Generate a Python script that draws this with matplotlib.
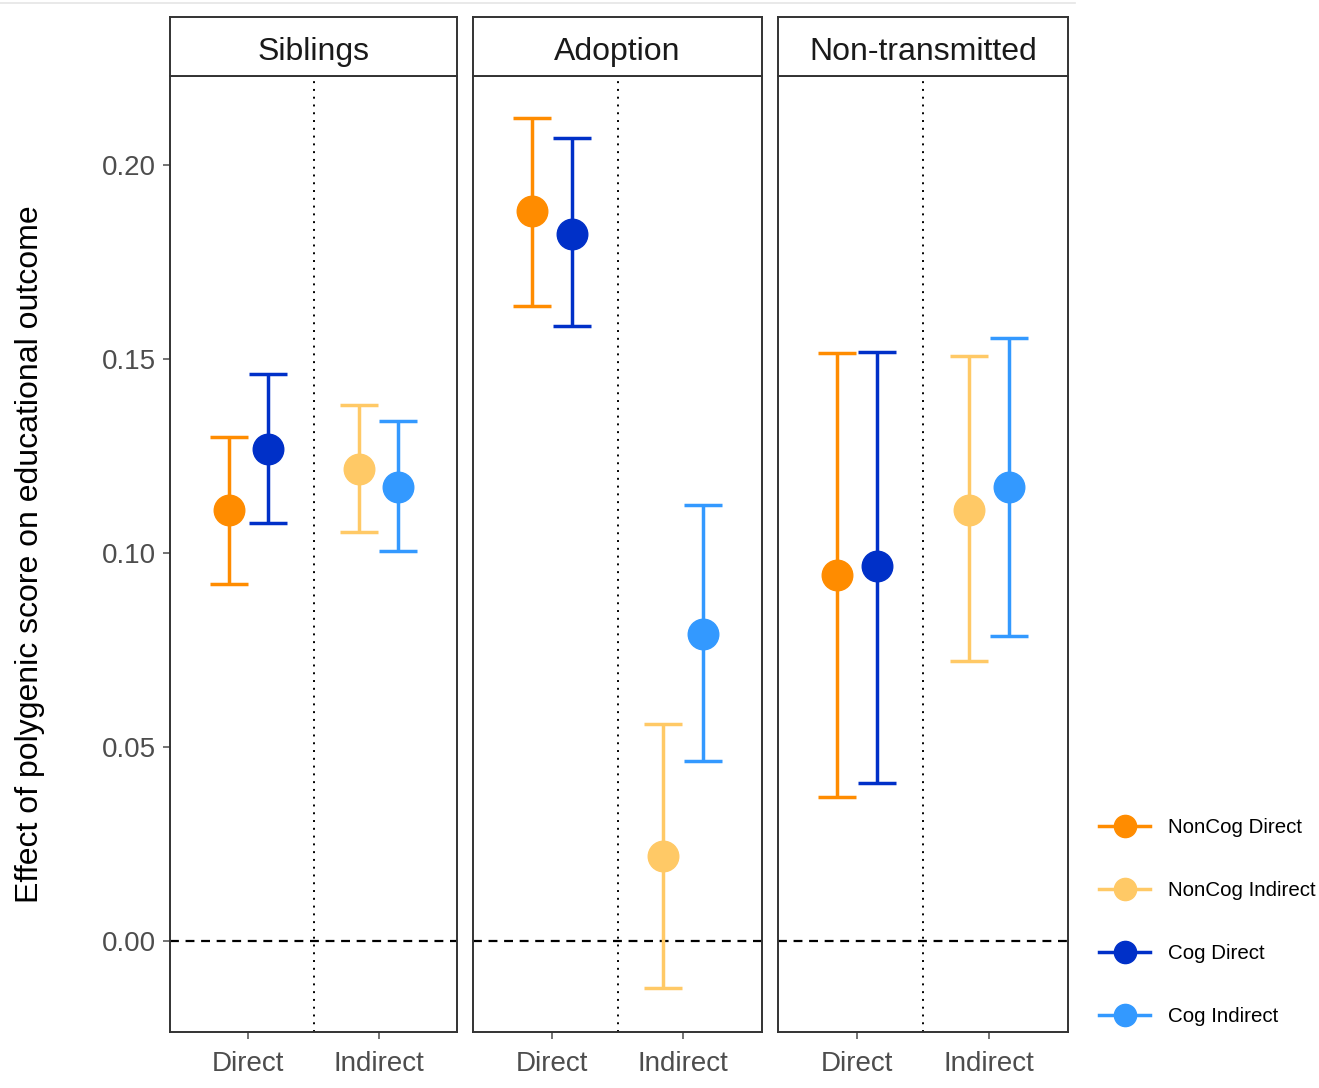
import matplotlib.pyplot as plt
from matplotlib.lines import Line2D

plt.rcParams['font.family'] = ['Liberation Sans', 'DejaVu Sans']

panels = ["Siblings", "Adoption", "Non-transmitted"]
x_labels = ["Direct", "Indirect"]
series = ["NonCog Direct", "NonCog Indirect", "Cog Direct", "Cog Indirect"]
colors = ["#FF8C00", "#FFC966", "#0030C8", "#3399FF"]

# estimate, lower, upper per panel, in series order
est = {
    "Siblings": [0.1111, 0.1216, 0.1268, 0.1170],
    "Adoption": [0.1881, 0.0219, 0.1822, 0.0791],
    "Non-transmitted": [0.0943, 0.1111, 0.0966, 0.1170],
}
lower = {
    "Siblings": [0.0920, 0.1054, 0.1077, 0.1005],
    "Adoption": [0.1637, -0.0121, 0.1585, 0.0464],
    "Non-transmitted": [0.0371, 0.0722, 0.0407, 0.0786],
}
upper = {
    "Siblings": [0.1299, 0.1381, 0.1461, 0.1340],
    "Adoption": [0.2121, 0.0559, 0.2070, 0.1124],
    "Non-transmitted": [0.1515, 0.1508, 0.1518, 0.1554],
}
# x category (1 = Direct, 2 = Indirect) and dodge for each series
x_cat = [1, 2, 1, 2]
dodge = [-0.15, -0.15, 0.15, 0.15]

W, H = 1319, 1088
fig = plt.figure(figsize=(W / 100, H / 100), dpi=100)

panel_x = [(170, 457), (473, 762), (778, 1068)]
top, bot, strip_top = 76, 1032, 17

for i, (name, (x0, x1)) in enumerate(zip(panels, panel_x)):
    ax = fig.add_axes([x0 / W, 1 - bot / H, (x1 - x0) / W, (bot - top) / H])
    ax.axhline(0, color="black", linestyle=(0, (4, 3)), linewidth=1.6, zorder=1)
    ax.axvline(1.5, color="black", linestyle=(0, (1, 3)), linewidth=1.4, zorder=1)
    for j in range(4):
        xp = x_cat[j] + dodge[j]
        e = est[name][j]
        ax.errorbar(xp, e, yerr=[[e - lower[name][j]], [upper[name][j] - e]],
                    fmt="o", color=colors[j], ecolor=colors[j], elinewidth=2.5,
                    capsize=14, capthick=2.5, markersize=22, zorder=3)
    ax.set_xlim(0.4, 2.6)
    ax.set_ylim(-0.0235, 0.2229)
    ax.set_xticks([1, 2])
    ax.set_xticklabels(x_labels, fontsize=20, color="#4D4D4D")
    ax.set_yticks([0.0, 0.05, 0.10, 0.15, 0.20])
    if i == 0:
        ax.set_yticklabels(["0.00", "0.05", "0.10", "0.15", "0.20"], fontsize=20, color="#4D4D4D")
        ax.set_ylabel("Effect of polygenic score on educational outcome", fontsize=23)
        ax.yaxis.set_label_coords(-0.435, 0.5)
    else:
        ax.tick_params(axis="y", left=False, labelleft=False)
    ax.tick_params(axis="both", color="#4D4D4D", length=5, width=1.1)
    ax.tick_params(axis="x", pad=9)
    ax.tick_params(axis="y", pad=5)
    for s in ax.spines.values():
        s.set_linewidth(1.4)
        s.set_color("#333333")

    sax = fig.add_axes([x0 / W, 1 - top / H, (x1 - x0) / W, (top - strip_top) / H])
    sax.set_xticks([])
    sax.set_yticks([])
    for s in sax.spines.values():
        s.set_linewidth(1.4)
        s.set_color("#333333")
    sax.text(0.5, 0.4, name, ha="center", va="center", fontsize=23, color="#1A1A1A",
             transform=sax.transAxes)

# faint screenshot line at the top
fig.add_artist(Line2D([0, 1075 / W], [1 - 3 / H, 1 - 3 / H], color="#E5E5E5", linewidth=1.2))

handles = [Line2D([], [], color=c, marker="o", markersize=16, linewidth=2.5) for c in colors]
fig.legend(handles, series, loc="center left", bbox_to_anchor=(1099 / W, 1 - 922 / H),
           frameon=False, fontsize=14.8, labelspacing=2.15, handlelength=2.5,
           handletextpad=0.85, borderpad=0, borderaxespad=0)

fig.savefig("out.png", dpi=100, facecolor="white")
